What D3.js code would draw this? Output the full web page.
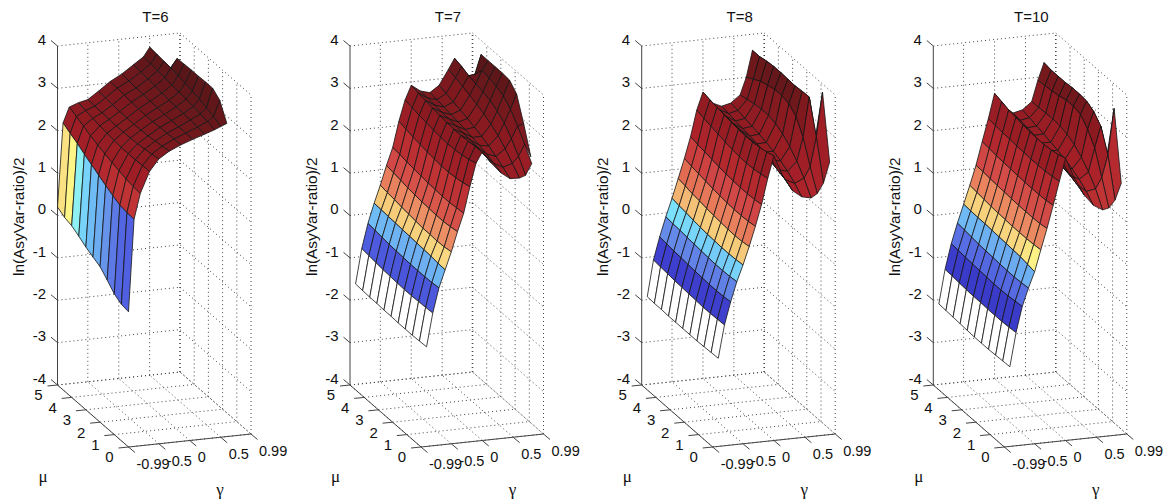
<!DOCTYPE html>
<html>
<head>
<meta charset="utf-8">
<script src="https://d3js.org/d3.v7.min.js"></script>
<style>
  html, body { margin: 0; padding: 0; background: #fff; }
  svg text { font-family: "Liberation Sans", Arial, sans-serif; fill: #111; }
  svg text.greek { font-family: "Liberation Serif", serif; }
</style>
</head>
<body>
<svg id="chart" width="1174" height="504"></svg>
<script>
const panel_titles = ["T=6", "T=7", "T=8", "T=10"]
const panel_left = [57.5, 350, 641.7, 933.3]

const gamma_ticks = [-0.99, -0.5, 0, 0.5, 0.99]
const mu_ticks = [0, 1, 2, 3, 4, 5]
const z_ticks = [-4, -3, -2, -1, 0, 1, 2, 3, 4]

// surface grids, rows follow gamma, columns follow mu_grid
const gamma_grid_t6 = [-0.99, -0.9, -0.8, -0.65, -0.5, -0.33, -0.14, 0.05, 0.24, 0.4, 0.5, 0.6]
const gamma_grid = [-0.9, -0.8, -0.7, -0.6, -0.5, -0.4, -0.3, -0.2, -0.1, 0, 0.15, 0.3, 0.45, 0.6, 0.7, 0.8, 0.9]
const mu_grid = [0, 0.5, 1, 1.5, 2, 2.5, 3, 3.5, 4, 4.5, 5]

const z_t6 = [
  [-0.81, -0.78, -0.68, -0.5, -0.33, -0.25, -0.16, -0.05, 0.05, 0.1, 0.2],
  [1.36, 1.37, 1.4, 1.48, 1.57, 1.67, 1.77, 1.87, 1.98, 2.07, 2.17],
  [1.95, 1.97, 2.0, 2.05, 2.1, 2.16, 2.22, 2.29, 2.37, 2.45, 2.53],
  [2.45, 2.44, 2.43, 2.43, 2.43, 2.45, 2.47, 2.5, 2.53, 2.57, 2.61],
  [2.72, 2.69, 2.66, 2.64, 2.63, 2.62, 2.62, 2.63, 2.64, 2.65, 2.66],
  [2.88, 2.85, 2.82, 2.8, 2.79, 2.78, 2.78, 2.79, 2.8, 2.82, 2.83],
  [3.0, 2.99, 2.98, 2.97, 2.96, 2.96, 2.97, 2.98, 3.0, 3.02, 3.03],
  [3.1, 3.1, 3.1, 3.1, 3.1, 3.11, 3.12, 3.13, 3.14, 3.16, 3.18],
  [3.19, 3.21, 3.23, 3.24, 3.25, 3.26, 3.28, 3.3, 3.32, 3.34, 3.37],
  [3.27, 3.32, 3.35, 3.38, 3.41, 3.43, 3.45, 3.47, 3.49, 3.51, 3.53],
  [3.33, 3.42, 3.48, 3.54, 3.58, 3.62, 3.65, 3.69, 3.7, 3.72, 3.74],
  [3.39, 3.79, 3.93, 3.93, 3.92, 3.92, 3.91, 3.9, 3.52, 3.4, 3.3]
]

const z_t7 = [
  [-1.65, -1.66, -1.67, -1.67, -1.67, -1.66, -1.66, -1.65, -1.65, -1.64, -1.63],
  [-0.87, -0.88, -0.89, -0.9, -0.9, -0.89, -0.88, -0.87, -0.85, -0.83, -0.81],
  [-0.29, -0.31, -0.32, -0.32, -0.32, -0.31, -0.3, -0.29, -0.27, -0.25, -0.23],
  [0.12, 0.13, 0.15, 0.16, 0.17, 0.18, 0.19, 0.2, 0.21, 0.22, 0.23],
  [0.53, 0.5, 0.49, 0.5, 0.5, 0.52, 0.54, 0.56, 0.59, 0.61, 0.64],
  [0.99, 0.96, 0.94, 0.94, 0.95, 0.96, 0.98, 1.0, 1.03, 1.06, 1.09],
  [1.41, 1.39, 1.37, 1.37, 1.38, 1.39, 1.41, 1.43, 1.45, 1.48, 1.5],
  [2.02, 1.97, 1.94, 1.92, 1.92, 1.94, 1.96, 1.99, 2.02, 2.06, 2.1],
  [2.56, 2.5, 2.46, 2.44, 2.43, 2.44, 2.46, 2.49, 2.52, 2.55, 2.59],
  [2.81, 2.79, 2.77, 2.76, 2.76, 2.77, 2.79, 2.82, 2.85, 2.88, 2.92],
  [2.52, 2.57, 2.61, 2.63, 2.65, 2.67, 2.69, 2.7, 2.72, 2.74, 2.76],
  [2.27, 2.35, 2.42, 2.48, 2.52, 2.56, 2.59, 2.62, 2.65, 2.68, 2.7],
  [2.11, 2.23, 2.34, 2.44, 2.52, 2.59, 2.65, 2.7, 2.75, 2.8, 2.85],
  [2.1, 2.3, 2.5, 2.66, 2.78, 2.88, 2.96, 3.03, 3.09, 3.15, 3.2],
  [2.15, 2.45, 2.72, 2.94, 3.08, 3.18, 3.24, 3.28, 3.33, 3.4, 3.45],
  [2.41, 2.72, 3.0, 3.25, 3.42, 3.5, 3.55, 3.58, 3.35, 3.1, 3.0],
  [null, 2.41, 3.04, 3.6, 3.78, 3.8, 3.8, 3.8, 3.8, 2.9, 2.5]
]

const z_t8 = [
  [-1.92, -1.93, -1.94, -1.95, -1.95, -1.95, -1.95, -1.95, -1.94, -1.94, -1.93],
  [-1.15, -1.16, -1.17, -1.17, -1.16, -1.15, -1.14, -1.13, -1.11, -1.1, -1.08],
  [-0.62, -0.64, -0.65, -0.65, -0.64, -0.63, -0.62, -0.6, -0.59, -0.57, -0.55],
  [-0.16, -0.18, -0.19, -0.19, -0.18, -0.17, -0.15, -0.14, -0.12, -0.11, -0.09],
  [0.22, 0.2, 0.19, 0.19, 0.2, 0.21, 0.23, 0.25, 0.28, 0.3, 0.33],
  [0.64, 0.61, 0.6, 0.61, 0.62, 0.64, 0.66, 0.69, 0.71, 0.75, 0.78],
  [1.1, 1.07, 1.06, 1.06, 1.07, 1.09, 1.11, 1.14, 1.17, 1.2, 1.24],
  [1.6, 1.57, 1.56, 1.56, 1.57, 1.59, 1.61, 1.64, 1.67, 1.7, 1.74],
  [2.2, 2.16, 2.13, 2.12, 2.13, 2.15, 2.18, 2.22, 2.26, 2.3, 2.35],
  [2.72, 2.66, 2.62, 2.6, 2.6, 2.61, 2.63, 2.66, 2.69, 2.72, 2.76],
  [2.2, 2.26, 2.31, 2.35, 2.38, 2.4, 2.42, 2.43, 2.45, 2.47, 2.48],
  [1.85, 1.96, 2.05, 2.12, 2.18, 2.22, 2.26, 2.29, 2.32, 2.35, 2.38],
  [1.68, 1.85, 1.99, 2.09, 2.17, 2.23, 2.28, 2.32, 2.36, 2.4, 2.43],
  [1.63, 1.95, 2.2, 2.4, 2.55, 2.65, 2.7, 2.7, 2.68, 2.64, 2.6],
  [1.72, 2.2, 2.75, 3.1, 3.25, 3.3, 3.3, 3.25, 3.2, 3.1, 3.0],
  [1.95, 2.89, 3.69, 3.68, 3.66, 3.67, 3.68, 3.68, 3.66, 3.62, 3.62],
  [2.43, 3.93, 2.73, 2.55, 2.5, 2.5, 2.5, 2.5, 2.5, 2.5, 2.5]
]

const z_t10 = [
  [-2.12, -2.13, -2.14, -2.15, -2.15, -2.15, -2.14, -2.13, -2.12, -2.11, -2.1],
  [-1.33, -1.35, -1.36, -1.36, -1.36, -1.35, -1.35, -1.34, -1.33, -1.31, -1.3],
  [-0.73, -0.75, -0.77, -0.78, -0.78, -0.77, -0.76, -0.75, -0.74, -0.72, -0.71],
  [-0.31, -0.33, -0.34, -0.34, -0.33, -0.32, -0.31, -0.3, -0.28, -0.26, -0.24],
  [0.06, 0.09, 0.12, 0.13, 0.14, 0.15, 0.16, 0.17, 0.17, 0.18, 0.19],
  [0.56, 0.54, 0.53, 0.53, 0.53, 0.54, 0.55, 0.56, 0.58, 0.6, 0.62],
  [1.05, 1.02, 1.01, 1.01, 1.01, 1.02, 1.03, 1.04, 1.05, 1.07, 1.08],
  [1.58, 1.55, 1.54, 1.54, 1.54, 1.55, 1.56, 1.57, 1.58, 1.6, 1.62],
  [2.13, 2.1, 2.08, 2.07, 2.07, 2.08, 2.09, 2.1, 2.11, 2.13, 2.15],
  [2.66, 2.6, 2.56, 2.54, 2.54, 2.55, 2.57, 2.6, 2.63, 2.68, 2.73],
  [2.15, 2.17, 2.18, 2.2, 2.22, 2.24, 2.26, 2.28, 2.31, 2.36, 2.4],
  [1.75, 1.85, 1.92, 1.98, 2.03, 2.07, 2.1, 2.13, 2.16, 2.19, 2.22],
  [1.48, 1.66, 1.8, 1.9, 1.98, 2.04, 2.09, 2.14, 2.18, 2.23, 2.27],
  [1.35, 1.7, 1.95, 2.15, 2.3, 2.4, 2.45, 2.47, 2.46, 2.45, 2.44],
  [1.38, 1.95, 2.5, 2.8, 3.0, 3.05, 3.05, 3.0, 2.97, 2.95, 2.93],
  [1.55, 2.47, 3.0, 3.2, 3.3, 3.32, 3.32, 3.3, 3.3, 3.3, 3.33],
  [1.93, 3.55, 2.3, 2.2, 2.2, 2.2, 2.2, 2.2, 2.2, 2.2, 2.2]
]

const panel_data = [z_t6, z_t7, z_t8, z_t10]
const panel_grid = [gamma_grid_t6, gamma_grid, gamma_grid, gamma_grid]

const color_z = [-1.4, -1.08, -0.81, -0.6, -0.4, -0.23, -0.06, 0.03, 0.12, 0.23, 0.33, 0.64, 0.78, 1.09, 1.24, 1.74, 2.5, 3.7]
const color_hex = ["#3a3ac8", "#4040d0", "#5060e0", "#6488e8", "#6aa0ee", "#70c0f5", "#80eeff", "#ffff88", "#f8d880", "#f5c878", "#f0a870", "#e87a5a", "#e06850", "#d04545", "#c83a3a", "#a82028", "#8a1a20", "#541618"]
const color_scale = d3.scaleLinear().domain(color_z).range(color_hex).clamp(true)

// oblique projection of the box, all in pixels from the (gamma min, mu 5, z min) corner
const gamma_x = d3.scaleLinear().domain([-0.99, 0.99]).range([0, 122.5])
const gamma_y = d3.scaleLinear().domain([-0.99, 0.99]).range([0, -13])
const mu_x = d3.scaleLinear().domain([5, 0]).range([0, 71])
const mu_y = d3.scaleLinear().domain([5, 0]).range([0, 62])
const z_y = d3.scaleLinear().domain([-4, 4]).range([385, 46])

const svg = d3.select("#chart")
const poly = d3.line()

function draw_panel(g, data, grid, title) {
    const project = (gamma, mu, z) => [gamma_x(gamma) + mu_x(mu), gamma_y(gamma) + mu_y(mu) + z_y(z)]
    const gamma_min = gamma_ticks[0], gamma_max = gamma_ticks[gamma_ticks.length - 1]
    const z_min = z_ticks[0], z_max = z_ticks[z_ticks.length - 1]

    const dotted = (a, b, width) => g.append("path")
        .attr("d", poly([a, b]))
        .attr("stroke", "#444")
        .attr("stroke-width", width || 1)
        .attr("stroke-dasharray", "1,3")
        .attr("fill", "none")
    const solid = (a, b) => g.append("path")
        .attr("d", poly([a, b]))
        .attr("stroke", "#444")
        .attr("stroke-width", 1)
        .attr("fill", "none")

    // back walls and floor
    z_ticks.forEach(z => {
        dotted(project(gamma_min, 5, z), project(gamma_max, 5, z))
        dotted(project(gamma_max, 5, z), project(gamma_max, 0, z))
    })
    gamma_ticks.forEach(t => {
        if (t !== gamma_min) dotted(project(t, 5, z_min), project(t, 5, z_max), t === gamma_max ? 1.6 : 1)
        dotted(project(t, 0, z_min), project(t, 5, z_min))
    })
    mu_ticks.forEach(t => {
        if (t !== 5) dotted(project(gamma_max, t, z_min), project(gamma_max, t, z_max))
        dotted(project(gamma_min, t, z_min), project(gamma_max, t, z_min))
    })

    // axis lines
    solid(project(gamma_min, 5, z_min), project(gamma_min, 5, z_max))
    solid(project(gamma_min, 5, z_min), project(gamma_min, 0, z_min))
    solid(project(gamma_min, 0, z_min), project(gamma_max, 0, z_min))

    // ticks and labels
    z_ticks.forEach(z => {
        const p = project(gamma_min, 5, z)
        solid(p, [p[0] - 6.5, p[1] - 5.5])
        g.append("text").attr("x", p[0] - 11.5).attr("y", p[1] - 6.6).attr("dy", "0.36em")
            .attr("text-anchor", "end").attr("font-size", 15).text(z)
    })
    mu_ticks.forEach(t => {
        const p = project(gamma_min, t, z_min)
        solid(p, [p[0] - 10, p[1] + 1])
        g.append("text").attr("x", p[0] - 19).attr("y", p[1] + 10).attr("dy", "0.36em")
            .attr("text-anchor", "middle").attr("font-size", 15).text(t)
    })
    gamma_ticks.forEach(t => {
        const p = project(t, 0, z_min)
        solid(p, [p[0] + 6.5, p[1] + 5.5])
        g.append("text").attr("x", p[0] + 8).attr("y", p[1] + 16.5).attr("dy", "0.36em")
            .attr("text-anchor", "start").attr("font-size", 14.5).text(t)
    })

    // surface, far cells first so the near ones cover them
    for (let i = grid.length - 2; i >= 0; i--) {
        for (let j = mu_grid.length - 2; j >= 0; j--) {
            const c = [data[i][j], data[i + 1][j], data[i + 1][j + 1], data[i][j + 1]]
            if (c.some(v => v === null)) continue
            const corners = [
                project(grid[i], mu_grid[j], c[0]),
                project(grid[i + 1], mu_grid[j], c[1]),
                project(grid[i + 1], mu_grid[j + 1], c[2]),
                project(grid[i], mu_grid[j + 1], c[3])
            ]
            g.append("path")
                .attr("d", poly(corners) + "Z")
                .attr("fill", c[0] < color_z[0] ? "#fff" : color_scale(c[0]))
                .attr("stroke", "#151515")
                .attr("stroke-width", 0.8)
                .attr("stroke-linejoin", "round")
        }
    }

    // titles
    g.append("text").attr("x", 98).attr("y", 22).attr("text-anchor", "middle")
        .attr("font-size", 15).text(title)
    g.append("text").attr("transform", "translate(-33.5,216.7) rotate(-90)")
        .attr("text-anchor", "middle").attr("font-size", 15.4).text("ln(AsyVar-ratio)/2")
    g.append("text").attr("class", "greek").attr("x", -14.5).attr("y", 477).attr("dy", "0.3em")
        .attr("text-anchor", "middle").attr("font-size", 17).text("μ")
    g.append("text").attr("class", "greek").attr("x", 162.5).attr("y", 490).attr("dy", "0.3em")
        .attr("text-anchor", "middle").attr("font-size", 17).text("γ")
}

panel_titles.forEach((title, n) => {
    const g = svg.append("g").attr("transform", "translate(" + panel_left[n] + ",0)")
    draw_panel(g, panel_data[n], panel_grid[n], title)
})
</script>
</body>
</html>
